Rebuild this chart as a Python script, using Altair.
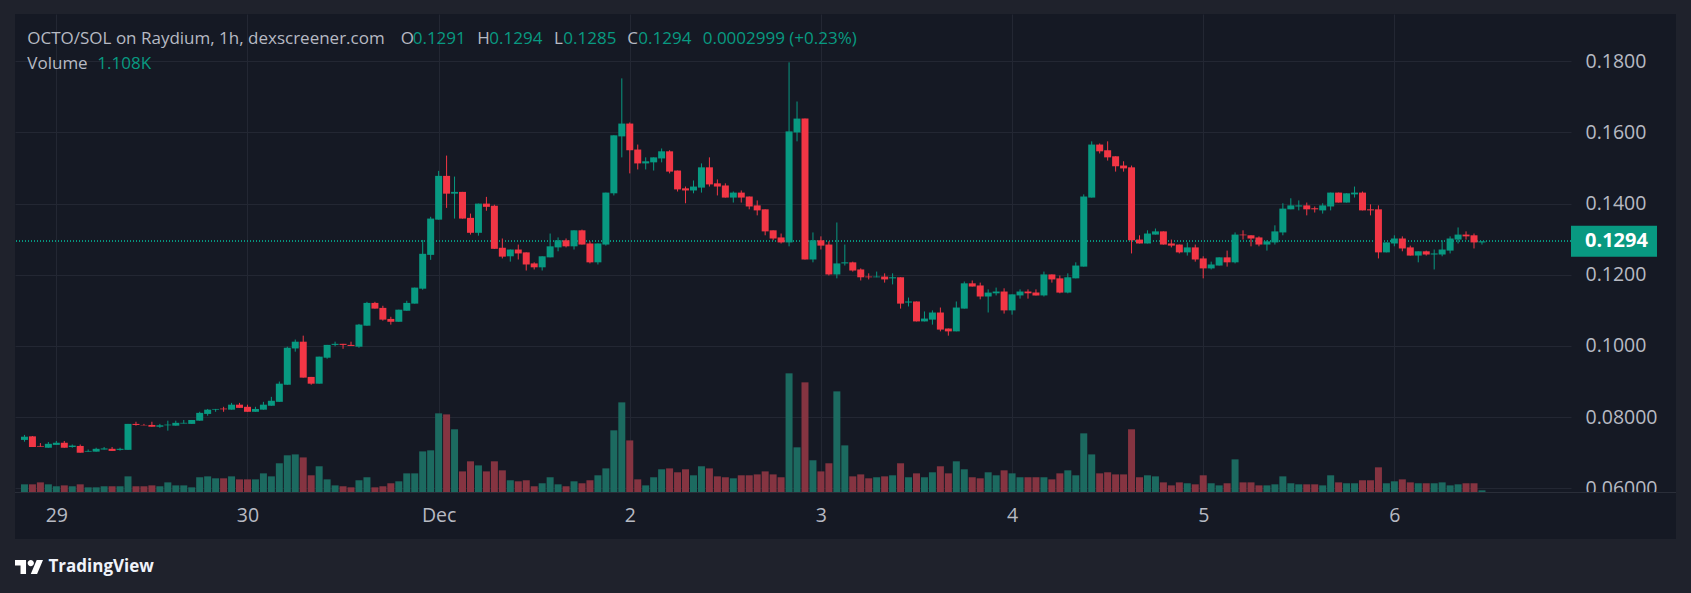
import altair as alt
import pandas as pd

# ---------------- data (1h candles, first candle = Nov 28 20:00) ----------------
opens = [0.0736, 0.0746, 0.0719, 0.0714, 0.0722, 0.0728, 0.0716, 0.0719, 0.0703, 0.0703,
         0.0709, 0.0711, 0.0708, 0.0708, 0.0781, 0.0778, 0.0778, 0.0773, 0.0777, 0.0776,
         0.0782, 0.0781, 0.0790, 0.0809, 0.0821, 0.0824, 0.0821, 0.0835, 0.0829, 0.0815,
         0.0821, 0.0832, 0.0843, 0.0891, 0.0993, 0.1012, 0.0913, 0.0894, 0.0967, 0.1003,
         0.1006, 0.1003, 0.0998, 0.1057, 0.1121, 0.1107, 0.1076, 0.1068, 0.1099, 0.1119,
         0.1161, 0.1256, 0.1355, 0.1478, 0.1428, 0.1433, 0.1360, 0.1318, 0.1400, 0.1394,
         0.1276, 0.1252, 0.1271, 0.1263, 0.1232, 0.1221, 0.1249, 0.1277, 0.1297, 0.1280,
         0.1325, 0.1288, 0.1235, 0.1285, 0.1429, 0.1589, 0.1625, 0.1552, 0.1513, 0.1516,
         0.1527, 0.1547, 0.1493, 0.1443, 0.1437, 0.1445, 0.1502, 0.1457, 0.1451, 0.1417,
         0.1431, 0.1420, 0.1395, 0.1384, 0.1325, 0.1305, 0.1291, 0.1600, 0.1639, 0.1243,
         0.1297, 0.1285, 0.1201, 0.1232, 0.1235, 0.1215, 0.1195, 0.1193, 0.1195, 0.1190,
         0.1193, 0.1122, 0.1125, 0.1069, 0.1074, 0.1094, 0.1049, 0.1041, 0.1105, 0.1176,
         0.1170, 0.1139, 0.1148, 0.1153, 0.1100, 0.1142, 0.1153, 0.1150, 0.1142, 0.1201,
         0.1190, 0.1150, 0.1190, 0.1223, 0.1417, 0.1566, 0.1550, 0.1533, 0.1507, 0.1502,
         0.1299, 0.1288, 0.1313, 0.1322, 0.1288, 0.1285, 0.1263, 0.1277, 0.1246, 0.1218,
         0.1226, 0.1249, 0.1235, 0.1313, 0.1311, 0.1305, 0.1285, 0.1291, 0.1319, 0.1384,
         0.1392, 0.1395, 0.1387, 0.1381, 0.1392, 0.1431, 0.1403, 0.1426, 0.1431, 0.1384,
         0.1384, 0.1263, 0.1288, 0.1302, 0.1277, 0.1254, 0.1266, 0.1257, 0.1257, 0.1268,
         0.1299, 0.1313, 0.1311, 0.1291]
highs = [0.0750, 0.0747, 0.0727, 0.0730, 0.0733, 0.0733, 0.0723, 0.0723, 0.0709, 0.0714,
         0.0716, 0.0716, 0.0714, 0.0781, 0.0787, 0.0781, 0.0787, 0.0781, 0.0790, 0.0790,
         0.0792, 0.0792, 0.0815, 0.0823, 0.0823, 0.0829, 0.0840, 0.0840, 0.0835, 0.0829,
         0.0843, 0.0857, 0.0900, 0.0998, 0.1018, 0.1029, 0.0913, 0.0970, 0.1003, 0.1012,
         0.1006, 0.1012, 0.1062, 0.1124, 0.1124, 0.1113, 0.1082, 0.1102, 0.1127, 0.1164,
         0.1298, 0.1363, 0.1492, 0.1535, 0.1476, 0.1433, 0.1372, 0.1400, 0.1419, 0.1397,
         0.1302, 0.1271, 0.1285, 0.1263, 0.1235, 0.1252, 0.1316, 0.1305, 0.1302, 0.1325,
         0.1327, 0.1294, 0.1288, 0.1431, 0.1592, 0.1752, 0.1628, 0.1566, 0.1530, 0.1530,
         0.1555, 0.1550, 0.1493, 0.1448, 0.1465, 0.1513, 0.1530, 0.1468, 0.1457, 0.1434,
         0.1437, 0.1420, 0.1409, 0.1384, 0.1325, 0.1316, 0.1797, 0.1687, 0.1639, 0.1319,
         0.1308, 0.1294, 0.1347, 0.1285, 0.1237, 0.1218, 0.1204, 0.1209, 0.1204, 0.1204,
         0.1193, 0.1136, 0.1125, 0.1097, 0.1100, 0.1108, 0.1049, 0.1125, 0.1181, 0.1184,
         0.1178, 0.1159, 0.1164, 0.1162, 0.1145, 0.1159, 0.1159, 0.1159, 0.1209, 0.1201,
         0.1198, 0.1204, 0.1235, 0.1426, 0.1575, 0.1569, 0.1575, 0.1533, 0.1519, 0.1507,
         0.1311, 0.1325, 0.1330, 0.1322, 0.1299, 0.1285, 0.1291, 0.1285, 0.1252, 0.1237,
         0.1249, 0.1268, 0.1319, 0.1325, 0.1311, 0.1308, 0.1297, 0.1339, 0.1401, 0.1415,
         0.1409, 0.1403, 0.1392, 0.1401, 0.1431, 0.1431, 0.1429, 0.1448, 0.1434, 0.1398,
         0.1395, 0.1291, 0.1311, 0.1308, 0.1282, 0.1266, 0.1268, 0.1271, 0.1297, 0.1308,
         0.1333, 0.1322, 0.1316, 0.1294]
lows = [0.0731, 0.0716, 0.0717, 0.0714, 0.0722, 0.0714, 0.0714, 0.0700, 0.0703, 0.0703,
        0.0709, 0.0705, 0.0706, 0.0708, 0.0776, 0.0777, 0.0773, 0.0770, 0.0762, 0.0776,
        0.0782, 0.0781, 0.0790, 0.0804, 0.0815, 0.0815, 0.0821, 0.0826, 0.0815, 0.0815,
        0.0821, 0.0832, 0.0843, 0.0891, 0.0984, 0.0911, 0.0891, 0.0894, 0.0964, 0.0999,
        0.0992, 0.1000, 0.0995, 0.1057, 0.1105, 0.1071, 0.1060, 0.1068, 0.1099, 0.1119,
        0.1158, 0.1242, 0.1355, 0.1388, 0.1358, 0.1358, 0.1313, 0.1310, 0.1380, 0.1273,
        0.1246, 0.1237, 0.1243, 0.1212, 0.1215, 0.1212, 0.1249, 0.1266, 0.1277, 0.1271,
        0.1285, 0.1232, 0.1229, 0.1282, 0.1423, 0.1530, 0.1485, 0.1496, 0.1496, 0.1493,
        0.1516, 0.1485, 0.1434, 0.1401, 0.1429, 0.1431, 0.1448, 0.1423, 0.1417, 0.1403,
        0.1403, 0.1384, 0.1367, 0.1311, 0.1297, 0.1288, 0.1280, 0.1575, 0.1243, 0.1235,
        0.1271, 0.1198, 0.1190, 0.1226, 0.1209, 0.1184, 0.1187, 0.1193, 0.1178, 0.1173,
        0.1105, 0.1111, 0.1069, 0.1069, 0.1060, 0.1041, 0.1029, 0.1041, 0.1105, 0.1167,
        0.1131, 0.1094, 0.1142, 0.1091, 0.1088, 0.1133, 0.1133, 0.1142, 0.1139, 0.1178,
        0.1148, 0.1148, 0.1190, 0.1223, 0.1417, 0.1541, 0.1521, 0.1490, 0.1490, 0.1260,
        0.1288, 0.1288, 0.1313, 0.1285, 0.1277, 0.1260, 0.1254, 0.1237, 0.1190, 0.1215,
        0.1226, 0.1223, 0.1232, 0.1299, 0.1280, 0.1280, 0.1268, 0.1285, 0.1311, 0.1384,
        0.1381, 0.1367, 0.1375, 0.1372, 0.1381, 0.1403, 0.1403, 0.1417, 0.1381, 0.1367,
        0.1246, 0.1263, 0.1280, 0.1266, 0.1254, 0.1235, 0.1254, 0.1215, 0.1252, 0.1260,
        0.1288, 0.1299, 0.1274, 0.1285]
closes = [0.0745, 0.0716, 0.0717, 0.0725, 0.0728, 0.0714, 0.0720, 0.0700, 0.0705, 0.0711,
          0.0712, 0.0705, 0.0711, 0.0781, 0.0778, 0.0777, 0.0773, 0.0777, 0.0779, 0.0784,
          0.0784, 0.0792, 0.0812, 0.0821, 0.0823, 0.0822, 0.0835, 0.0826, 0.0815, 0.0823,
          0.0835, 0.0846, 0.0894, 0.0995, 0.1012, 0.0911, 0.0894, 0.0970, 0.1003, 0.1006,
          0.1003, 0.1000, 0.1060, 0.1121, 0.1105, 0.1074, 0.1068, 0.1102, 0.1121, 0.1164,
          0.1259, 0.1358, 0.1478, 0.1428, 0.1433, 0.1358, 0.1318, 0.1400, 0.1391, 0.1273,
          0.1251, 0.1271, 0.1260, 0.1229, 0.1221, 0.1252, 0.1280, 0.1297, 0.1280, 0.1325,
          0.1285, 0.1235, 0.1288, 0.1431, 0.1592, 0.1625, 0.1550, 0.1513, 0.1519, 0.1530,
          0.1547, 0.1490, 0.1440, 0.1437, 0.1448, 0.1502, 0.1454, 0.1448, 0.1417, 0.1431,
          0.1417, 0.1392, 0.1381, 0.1322, 0.1302, 0.1291, 0.1603, 0.1639, 0.1243, 0.1297,
          0.1282, 0.1201, 0.1232, 0.1235, 0.1212, 0.1193, 0.1193, 0.1195, 0.1187, 0.1193,
          0.1119, 0.1125, 0.1069, 0.1077, 0.1094, 0.1046, 0.1041, 0.1108, 0.1176, 0.1167,
          0.1139, 0.1150, 0.1153, 0.1100, 0.1145, 0.1153, 0.1148, 0.1142, 0.1201, 0.1187,
          0.1150, 0.1193, 0.1226, 0.1420, 0.1566, 0.1547, 0.1530, 0.1505, 0.1499, 0.1297,
          0.1288, 0.1316, 0.1322, 0.1285, 0.1282, 0.1263, 0.1277, 0.1243, 0.1218, 0.1229,
          0.1249, 0.1235, 0.1313, 0.1311, 0.1302, 0.1285, 0.1294, 0.1322, 0.1386, 0.1395,
          0.1395, 0.1384, 0.1384, 0.1395, 0.1431, 0.1403, 0.1429, 0.1431, 0.1381, 0.1381,
          0.1263, 0.1291, 0.1302, 0.1274, 0.1254, 0.1266, 0.1257, 0.1260, 0.1271, 0.1302,
          0.1313, 0.1308, 0.1291, 0.1294]
volumes_k = [5.1, 5.1, 6.4, 5.1, 3.8, 4.4, 3.8, 5.1, 3.1, 3.1,
             3.8, 3.8, 3.8, 10.4, 3.8, 3.8, 4.4, 3.8, 6.4, 4.4,
             4.4, 3.1, 9.8, 10.4, 9.1, 9.1, 10.4, 8.4, 8.4, 8.4,
             12.4, 10.4, 19.1, 24.4, 25.0, 23.0, 11.1, 17.1, 8.4, 4.4,
             3.8, 3.1, 7.8, 9.8, 3.1, 3.8, 5.8, 7.1, 12.4, 12.4,
             27.0, 27.7, 52.3, 51.6, 41.7, 13.7, 20.4, 17.7, 13.7, 20.4,
             14.4, 7.8, 7.1, 7.8, 3.8, 5.8, 9.8, 5.1, 3.8, 7.1,
             5.8, 7.8, 11.1, 15.7, 41.0, 59.6, 34.3, 8.4, 4.4, 9.8,
             15.1, 15.7, 13.1, 15.1, 11.1, 17.1, 15.7, 10.4, 9.8, 9.1,
             11.1, 11.1, 11.7, 13.7, 11.7, 9.8, 78.9, 29.7, 72.9, 21.1,
             13.7, 19.1, 66.9, 31.0, 10.4, 11.7, 9.1, 9.8, 10.4, 11.1,
             19.1, 9.8, 12.4, 9.8, 13.1, 17.1, 12.4, 20.4, 15.1, 9.8,
             9.1, 13.1, 11.1, 14.4, 12.4, 9.8, 9.8, 9.8, 9.8, 8.4,
             12.4, 14.4, 11.1, 39.0, 25.0, 12.4, 13.1, 11.7, 11.7, 41.7,
             9.8, 11.1, 10.4, 6.4, 4.4, 6.4, 5.8, 5.1, 11.1, 5.8,
             4.4, 5.8, 21.7, 6.4, 6.4, 4.4, 4.4, 5.1, 10.4, 5.8,
             5.1, 5.1, 5.1, 4.4, 11.1, 6.4, 5.8, 5.8, 7.8, 7.8,
             16.4, 5.8, 7.1, 8.4, 6.4, 5.8, 5.8, 5.8, 6.4, 4.4,
             5.1, 5.8, 5.8, 1.108]

day_tick_hours = [4, 28, 52, 76, 100, 124, 148, 172]
day_tick_labels = ["29", "30", "Dec", "2", "3", "4", "5", "6"]
price_ticks = [0.06, 0.08, 0.10, 0.12, 0.14, 0.16, 0.18]

title_text = "OCTO/SOL on Raydium, 1h, dexscreener.com"
change_text = "0.0002999 (+0.23%)"
volume_label = "Volume"
volume_value = "1.108K"
brand_text = "TradingView"

# ---------------- styling ----------------
UP = "#089981"
DOWN = "#F23645"
VOL_UP = "#1c6a60"
VOL_DOWN = "#853441"
PANEL = "#151924"
OUTER = "#1f222c"
GRID = "#232733"
SEP = "#2a2e39"
TXT = "#b7bac3"
FONT = "Open Sans"

W, H = 1556, 478
PAD_L, PAD_T = 15, 14
TOTAL_W, TOTAL_H = 1691, 593

df = pd.DataFrame({
    "h": list(range(len(opens))),
    "open": opens, "high": highs, "low": lows, "close": closes, "vol": volumes_k,
})
df["body_lo"] = df[["open", "close"]].min(axis=1)
df["body_hi"] = df[["open", "close"]].max(axis=1)

last_close = closes[-1]

x_scale = alt.Scale(domain=[-0.5614, 193.55], zero=False, nice=False)
price_scale = alt.Scale(domain=[0.05896, 0.19329], zero=False, nice=False)
vol_scale = alt.Scale(domain=[0, 317.8], zero=True, nice=False)

lbl_expr = "[" + ",".join("'%s'" % s for s in day_tick_labels) + "][indexof([" + \
    ",".join(str(v) for v in day_tick_hours) + "], datum.value)]"

x_axis = alt.Axis(values=day_tick_hours, labelExpr=lbl_expr, grid=True, gridColor=GRID,
                  gridWidth=1, ticks=False, tickSize=0, domain=False, labelPadding=23,
                  labelBaseline="middle", labelFontSize=19.5, labelColor=TXT, labelFont=FONT,
                  title=None, labelOverlap=False, labelFlush=False)
price_axis = alt.Axis(values=price_ticks, orient="right", grid=True, gridColor=GRID, gridWidth=1,
                      ticks=False, tickSize=0, domain=False, labelPadding=14,
                      labelExpr="datum.value < 0.099 ? format(datum.value, '.5f') : format(datum.value, '.4f')",
                      labelFontSize=19.5, labelColor=TXT, labelFont=FONT, title=None,
                      labelAlign="left", labelBaseline="middle", labelOverlap=False, labelFlush=False)

xq = alt.X("h:Q", scale=x_scale, axis=x_axis)
up_cond = alt.condition("datum.close >= datum.open", alt.value(UP), alt.value(DOWN))
vol_cond = alt.condition("datum.close >= datum.open", alt.value(VOL_UP), alt.value(VOL_DOWN))

base = alt.Chart(df)

volume = base.mark_bar(size=7).encode(
    x=xq,
    y=alt.Y("vol:Q", scale=vol_scale, axis=None),
    color=vol_cond,
)

price_line = base.mark_rule(strokeDash=[1, 2], strokeWidth=1, color=UP).encode(
    y=alt.Y(datum=last_close, scale=price_scale, axis=price_axis)
)
wicks = base.mark_rule(strokeWidth=1).encode(
    x=xq,
    y=alt.Y("low:Q", scale=price_scale, axis=price_axis),
    y2="high:Q",
    color=up_cond,
)
bodies = base.mark_bar(size=7).encode(
    x=xq,
    y=alt.Y("body_lo:Q", scale=price_scale, axis=price_axis),
    y2="body_hi:Q",
    color=up_cond,
)

one = pd.DataFrame({"a": [0]})
tag_box = alt.Chart(one).mark_point(
    shape="M-2.774,-1H2.774V1H-2.774Z", size=961, filled=True, opacity=1, color=UP, strokeWidth=0
).encode(x=alt.value(1599), y=alt.Y(datum=last_close, scale=price_scale, axis=price_axis))
tag_text = alt.Chart(one).mark_text(
    align="left", baseline="middle", font=FONT, fontSize=20, fontWeight="bold", color="#ffffff"
).encode(x=alt.value(1570), y=alt.Y(datum=last_close, scale=price_scale, axis=price_axis),
         text=alt.value(f"{last_close:.4f}"))

price_layers = alt.layer(price_line, wicks, bodies, tag_box, tag_text)
main = alt.layer(volume, price_layers).resolve_scale(y="independent")


def rect(x0, x1, y0, y1, color):
    return alt.Chart(one).mark_rect(color=color, strokeWidth=0).encode(
        x=alt.value(x0), x2=alt.value(x1), y=alt.value(y0), y2=alt.value(y1))


def rule(x0, x1, y0, y1, color):
    return alt.Chart(one).mark_rule(color=color, strokeWidth=1).encode(
        x=alt.value(x0), x2=alt.value(x1), y=alt.value(y0), y2=alt.value(y1))


def text(s, x, y, color, size=17, weight="normal", align="left"):
    return alt.Chart(one).mark_text(
        align=align, baseline="middle", font=FONT, fontSize=size, fontWeight=weight, color=color
    ).encode(x=alt.value(x), y=alt.value(y), text=alt.value(s))


# panel frame (outside the plot area)
frame = [
    rect(-PAD_L, 0, -PAD_T, TOTAL_H - PAD_T, OUTER),
    rect(-PAD_L, TOTAL_W - PAD_L, -PAD_T, 0, OUTER),
    rect(1661, TOTAL_W - PAD_L, -PAD_T, TOTAL_H - PAD_T, OUTER),
    rect(-PAD_L, TOTAL_W - PAD_L, 525, TOTAL_H - PAD_T, OUTER),
]

cover = rect(W, 1661, H + 0.5, 525, PANEL)
sep = rule(0, 1661, H + 0.5, H + 0.5, SEP)

# legend header
hy1, hy2 = 24.7, 49.7
header = [
    text(title_text, 12.3, hy1, TXT),
    text("O", 385.7, hy1, TXT), text(f"{opens[-1]:.4f}", 397.7, hy1, UP),
    text("H", 462.3, hy1, TXT), text(f"{highs[-1]:.4f}", 474.3, hy1, UP),
    text("L", 539.0, hy1, TXT), text(f"{lows[-1]:.4f}", 548.3, hy1, UP),
    text("C", 612.3, hy1, TXT), text(f"{closes[-1]:.4f}", 623.3, hy1, UP),
    text(change_text, 687.7, hy1, UP),
    text(volume_label, 12.3, hy2, TXT),
    text(volume_value, 82.3, hy2, UP),
]

# TradingView brand mark (logo glyph as a symbol path) + wordmark
LOGO_PATH = ("M-0.2113,0.507H-0.6056V-0.1127H-1V-0.507H-0.2113Z"
             "M0.5775,0.507H0.1268L0.5493,-0.507H1L0.5775,0.507Z"
             "M-0.0986,-0.2817A0.2254,0.2254 0 1,0 0.3522,-0.2817"
             "A0.2254,0.2254 0 1,0 -0.0986,-0.2817Z")
logo = [
    alt.Chart(one).mark_point(shape=LOGO_PATH, size=784, filled=True, opacity=1,
                              color="#ffffff", strokeWidth=0)
    .encode(x=alt.value(14), y=alt.value(553)),
    text(brand_text, 33.5, 553, "#f0f3fa", size=17, weight="bold"),
]

chart = alt.layer(*frame, main, cover, sep, *header, *logo).properties(
    width=W, height=H,
    autosize=alt.AutoSizeParams(type="none"),
    padding={"left": PAD_L, "top": PAD_T, "right": TOTAL_W - PAD_L - W, "bottom": TOTAL_H - PAD_T - H},
).configure(background=PANEL).configure_view(stroke=None)

chart.save("out.html", embed_options={"renderer": "svg", "actions": False})
